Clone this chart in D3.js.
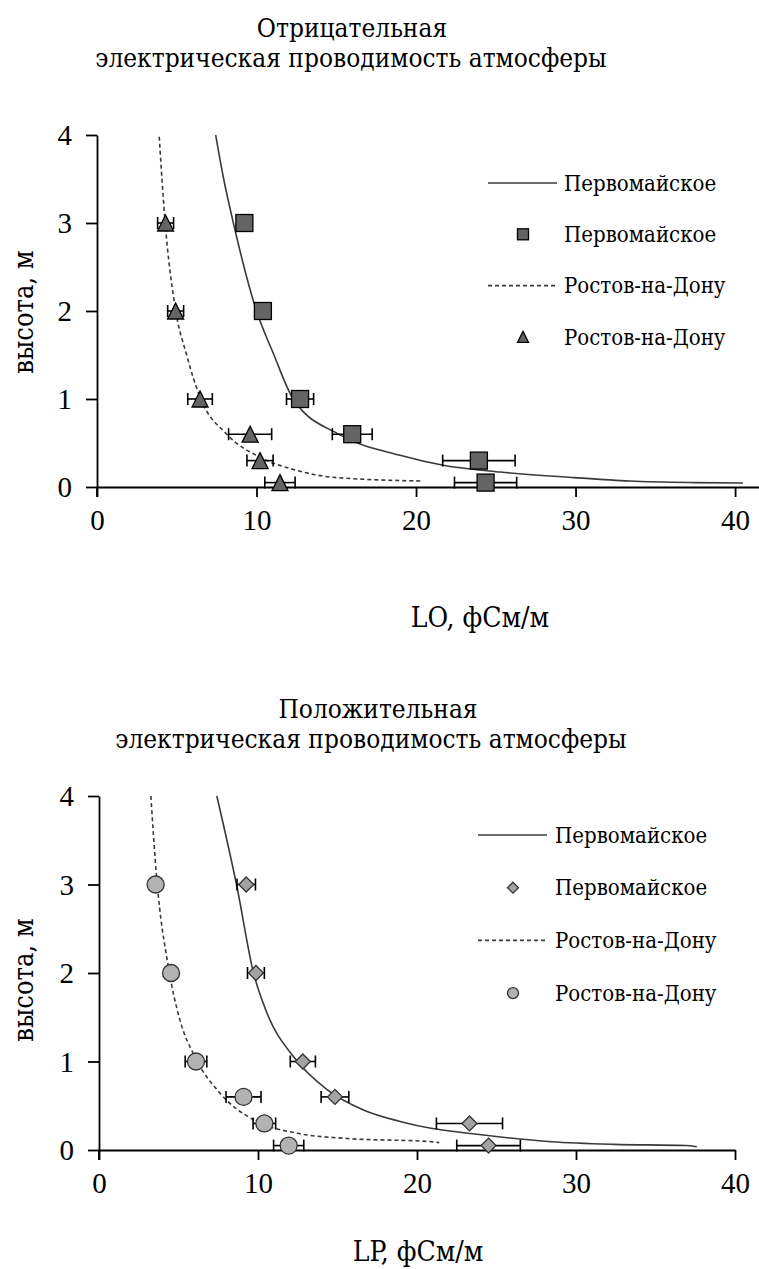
<!DOCTYPE html>
<html lang="ru">
<head>
<meta charset="utf-8">
<script src="https://cdn.jsdelivr.net/npm/d3@7"></script>
</head>
<body style="margin:0">
<script>
// размеры страницы
const w = 759;
const h = 1269;
const FONT = '"Liberation Serif"';
const FONT_RU = '"DejaVu Serif Condensed"';

// высоты измерений, м
const heights = [3, 2, 1, 0.6, 0.3, 0.05];

// отрицательная проводимость LO, фСм/м
const loPervo = [9.24, 10.4, 12.73, 16.0, 23.94, 24.36];
const loPervoErr = [0.3, 0.3, 0.85, 1.25, 2.27, 1.95];
const loRostov = [4.3, 4.93, 6.46, 9.6, 10.22, 11.47];
const loRostovErr = [0.5, 0.5, 0.77, 1.35, 0.82, 0.95];

// положительная проводимость LP, фСм/м
const lpPervo = [9.26, 9.87, 12.82, 14.84, 23.3, 24.5];
const lpPervoErr = [0.58, 0.53, 0.79, 0.87, 2.08, 2.0];
const lpRostov = [3.56, 4.53, 6.1, 9.09, 10.4, 11.93];
const lpRostovErr = [0.2, 0.3, 0.68, 1.1, 0.71, 0.95];

// линии тренда: [L, высота]
const loPervoTrend = [[7.44, 4], [7.92, 3.52], [8.55, 3], [10.0, 2], [11.05, 1.52], [12.3, 1], [15.2, 0.595], [19.0, 0.36], [21.7, 0.247], [25.3, 0.17], [29.9, 0.107], [33.4, 0.068], [37.4, 0.05], [40.5, 0.045]];
const loRostovTrend = [[3.9, 3.98], [4.26, 3.03], [4.89, 2.05], [5.62, 1.5], [6.46, 1.02], [8.13, 0.6], [10.2, 0.34], [12.5, 0.19], [14.8, 0.11], [20.35, 0.068]];
const lpPervoTrend = [[7.41, 4], [8.67, 2.98], [9.72, 2.0], [10.57, 1.545], [12.25, 1.05], [14.36, 0.68], [16.67, 0.45], [19.0, 0.32], [20.88, 0.245], [23.2, 0.19], [28.45, 0.094], [32.4, 0.064], [36.9, 0.05], [37.6, 0.037]];
const lpRostovTrend = [[3.26, 4], [3.62, 3.09], [4.36, 2.07], [5.09, 1.47], [6.04, 1.05], [7.62, 0.64], [9.72, 0.34], [12.46, 0.19], [15.6, 0.13], [20.9, 0.094], [21.4, 0.083]];

// подписи
const xTicks = [0, 10, 20, 30, 40];
const yTicks = [0, 1, 2, 3, 4];
const legendNames = ["Первомайское", "Первомайское", "Ростов-на-Дону", "Ростов-на-Дону"];

const svg = d3.select("body").append("svg").attr("width", w).attr("height", h);

// кириллические надписи
function label(parent, txt, size) {
  return parent.append("text").style("font-family", FONT_RU).attr("font-size", size).text(txt);
}

// маркеры
function drawMarker(g, type, x, y, s) {
  if (type === "square") {
    g.append("rect").attr("x", x - s / 2).attr("y", y - s / 2).attr("width", s).attr("height", s)
      .attr("fill", "#646464").attr("stroke", "#000").attr("stroke-width", 1.3);
  } else if (type === "triangle") {
    g.append("path")
      .attr("d", `M${x},${y - s / 2}L${x + s / 2},${y + s / 2}L${x - s / 2},${y + s / 2}Z`)
      .attr("fill", "#646464").attr("stroke", "#000").attr("stroke-width", 1.3);
  } else if (type === "diamond") {
    g.append("path")
      .attr("d", `M${x},${y - s / 2}L${x + s / 2},${y}L${x},${y + s / 2}L${x - s / 2},${y}Z`)
      .attr("fill", "#a3a3a3").attr("stroke", "#333").attr("stroke-width", 1.3);
  } else {
    g.append("circle").attr("cx", x).attr("cy", y).attr("r", s / 2)
      .attr("fill", "#b3b3b3").attr("stroke", "#333").attr("stroke-width", 1.3);
  }
}

function panel(opt) {
  const xScale = d3.scaleLinear().domain([0, opt.xMax]).range([opt.left, opt.right]);
  const yScale = d3.scaleLinear().domain([0, 4]).range([opt.bottom, opt.top]);
  const g = svg.append("g");

  // заголовок
  label(g, opt.title1, 26).attr("x", opt.titleX).attr("y", opt.titleY).attr("text-anchor", "middle");
  label(g, "электрическая проводимость атмосферы", 26)
    .attr("x", opt.titleX2).attr("y", opt.titleY + 30).attr("text-anchor", "middle");

  // оси
  const xAxis = d3.axisBottom(xScale).tickValues(xTicks).tickFormat(d3.format("d"))
    .tickSize(10).tickPadding(12).tickSizeOuter(0);
  const yAxis = d3.axisLeft(yScale).tickValues(yTicks).tickFormat(d3.format("d"))
    .tickSize(11).tickPadding(14).tickSizeOuter(0);

  const gx = g.append("g").attr("transform", "translate(0," + opt.bottom + ")").call(xAxis);
  const gy = g.append("g").attr("transform", "translate(" + opt.left + ",0)").call(yAxis);
  [gx, gy].forEach(a => {
    a.attr("font-family", null);
    a.select(".domain").attr("stroke", "#000").attr("stroke-width", 1.8);
    a.selectAll(".tick line").attr("stroke", "#000").attr("stroke-width", 1.8);
    a.selectAll(".tick text").attr("font-size", 29).style("font-family", FONT).attr("fill", "#000");
  });
  gy.selectAll(".tick text").attr("dy", "0.34em");
  // ось Y продолжена вниз до конца делений
  g.append("line").attr("x1", opt.left).attr("x2", opt.left).attr("y1", opt.bottom).attr("y2", opt.bottom + 10)
    .attr("stroke", "#000").attr("stroke-width", 1.8);

  label(g, "высота, м", 27).attr("text-anchor", "middle")
    .attr("transform", `translate(${opt.yLabelX},${opt.yLabelY}) rotate(-90)`);
  label(g, opt.xLabel, 28).attr("x", opt.xLabelX).attr("y", opt.xLabelY).attr("text-anchor", "middle");

  // линии тренда
  const line = d3.line().x(d => xScale(d[0])).y(d => yScale(d[1])).curve(d3.curveMonotoneX);
  g.append("path").datum(opt.trend1).attr("d", line).attr("fill", "none")
    .attr("stroke", "#3a3a3a").attr("stroke-width", 1.6);
  g.append("path").datum(opt.trend2).attr("d", line).attr("fill", "none")
    .attr("stroke", "#3a3a3a").attr("stroke-width", 1.6).attr("stroke-dasharray", "4,3");

  // погрешности и точки
  [[opt.vals1, opt.err1, opt.m1], [opt.vals2, opt.err2, opt.m2]].forEach(([vals, errs, m]) => {
    vals.forEach((v, i) => {
      const cy = yScale(heights[i]);
      const x0 = xScale(v - errs[i]), x1 = xScale(v + errs[i]);
      const eb = g.append("g").attr("stroke", "#000").attr("stroke-width", 1.6);
      eb.append("line").attr("x1", x0).attr("x2", x1).attr("y1", cy).attr("y2", cy);
      eb.append("line").attr("x1", x0).attr("x2", x0).attr("y1", cy - 6).attr("y2", cy + 6);
      eb.append("line").attr("x1", x1).attr("x2", x1).attr("y1", cy - 6).attr("y2", cy + 6);
    });
    vals.forEach((v, i) => drawMarker(g, m, xScale(v), yScale(heights[i]), opt.msize[m]));
  });

  // легенда
  const lg = g.append("g");
  legendNames.forEach((name, i) => {
    const y = opt.legY + i * opt.legStep;
    if (i === 0 || i === 2) {
      lg.append("line").attr("x1", opt.legLineX0).attr("x2", opt.legLineX0 + 69).attr("y1", y).attr("y2", y)
        .attr("stroke", "#3a3a3a").attr("stroke-width", 1.6)
        .attr("stroke-dasharray", i === 2 ? "4,3" : null);
    } else {
      drawMarker(lg, i === 1 ? opt.m1 : opt.m2, opt.legLineX0 + 35, y, 11);
    }
    label(lg, name, 22).attr("x", opt.legTextX).attr("y", y).attr("dy", "0.35em");
  });
}

panel({
  title1: "Отрицательная", titleX: 352, titleX2: 351, titleY: 37,
  xMax: 41.5, left: 97, right: 759, top: 135, bottom: 487,
  xLabel: "LO, фСм/м", xLabelX: 480, xLabelY: 627,
  yLabelX: 33, yLabelY: 312,
  vals1: loPervo, err1: loPervoErr, m1: "square",
  vals2: loRostov, err2: loRostovErr, m2: "triangle",
  trend1: loPervoTrend, trend2: loRostovTrend,
  msize: { square: 17, triangle: 16 },
  legY: 183, legStep: 51.3, legLineX0: 488, legTextX: 564
});

panel({
  title1: "Положительная", titleX: 378, titleX2: 371, titleY: 718,
  xMax: 40, left: 99, right: 735, top: 796, bottom: 1150,
  xLabel: "LP, фСм/м", xLabelX: 418, xLabelY: 1261,
  yLabelX: 33, yLabelY: 980,
  vals1: lpPervo, err1: lpPervoErr, m1: "diamond",
  vals2: lpRostov, err2: lpRostovErr, m2: "circle",
  trend1: lpPervoTrend, trend2: lpRostovTrend,
  msize: { diamond: 15, circle: 17 },
  legY: 835, legStep: 52.7, legLineX0: 478, legTextX: 555
});
</script>
</body>
</html>
